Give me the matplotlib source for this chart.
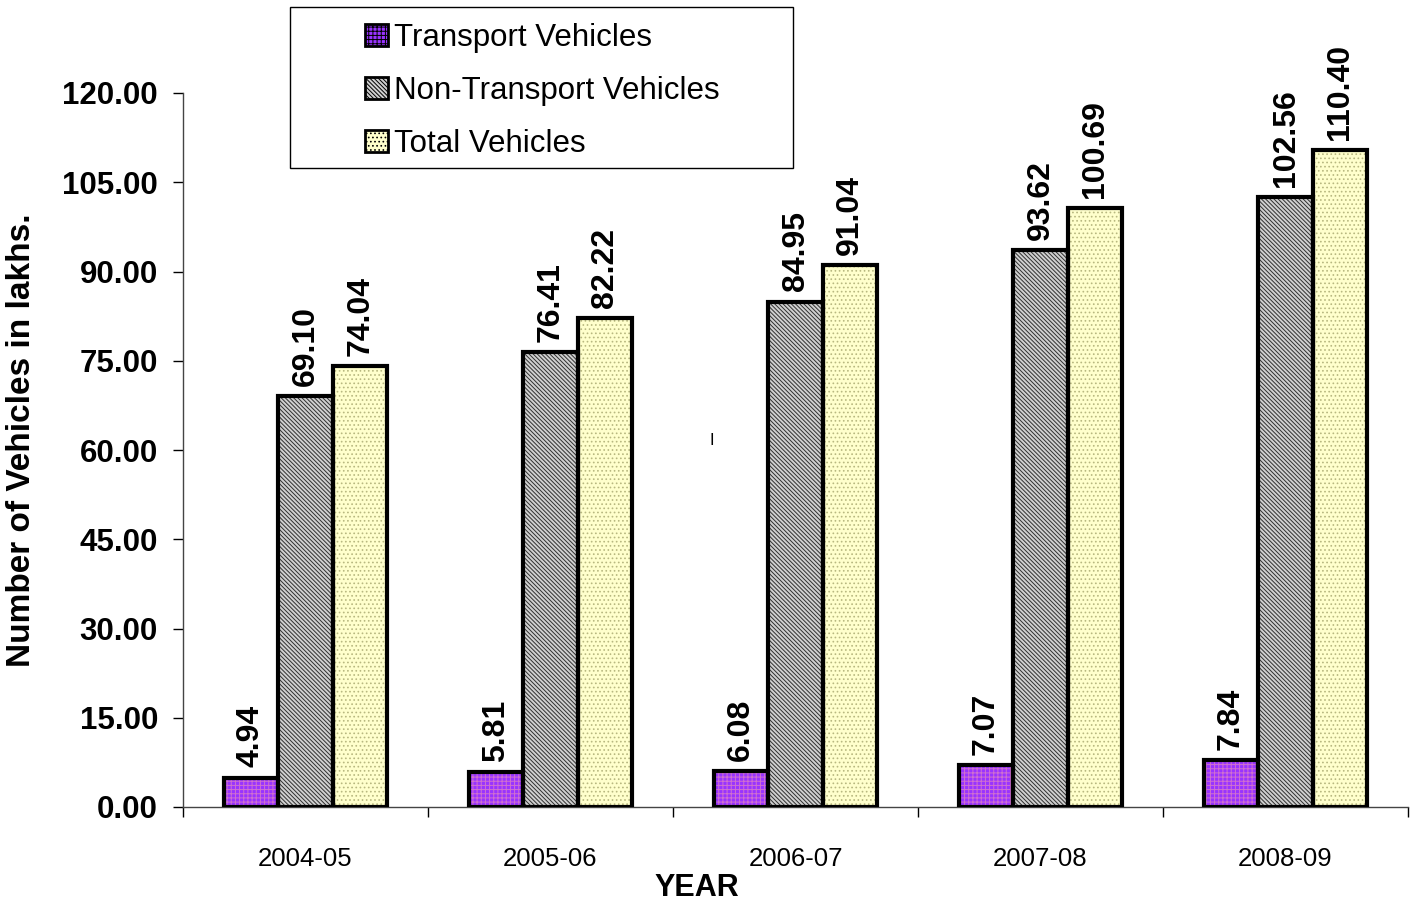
import matplotlib
matplotlib.use("Agg")
import matplotlib.pyplot as plt
import numpy as np
from matplotlib import font_manager
from matplotlib.patches import Patch, Rectangle

years = ["2004-05", "2005-06", "2006-07", "2007-08", "2008-09"]
transport = [4.94, 5.81, 6.08, 7.07, 7.84]
non_transport = [69.10, 76.41, 84.95, 93.62, 102.56]
total = [74.04, 82.22, 91.04, 100.69, 110.40]
series_names = ["Transport Vehicles", "Non-Transport Vehicles", "Total Vehicles"]
yticks = [0, 15, 30, 45, 60, 75, 90, 105, 120]

plt.rcParams['font.family'] = ['Liberation Sans', 'DejaVu Sans']
plt.rcParams['hatch.linewidth'] = 0.7

names = {f.name for f in font_manager.fontManager.ttflist}
narrow = 'Liberation Sans Narrow' if 'Liberation Sans Narrow' in names else None

fig = plt.figure(figsize=(14.11, 9.06), dpi=100)
ax = fig.add_axes([183/1411, 1-807/906, 1225/1411, (807-93)/906])

x = np.arange(len(years))
w = 0.223
styles = [
    dict(facecolor="#9933FF", hatch="++++", hatch_color="#D070D0"),
    dict(facecolor="#D0D0D0", hatch="\\\\\\\\\\\\\\\\", hatch_color="#303030"),
    dict(facecolor="#FFFFCC", hatch="....", hatch_color="#B8B880"),
]
data = [transport, non_transport, total]
for i, (vals, st) in enumerate(zip(data, styles)):
    pos = x + (i - 1) * w
    ax.bar(pos, vals, width=w, facecolor=st["facecolor"], edgecolor=st["hatch_color"],
           hatch=st["hatch"], linewidth=0, zorder=2)
    ax.bar(pos, vals, width=w, facecolor="none", edgecolor="black", linewidth=3, zorder=3)
    for p, v in zip(pos, vals):
        ax.text(p, v + 1.7, f"{v:.2f}", rotation=90, ha="center", va="bottom",
                fontsize=23, fontweight="bold", zorder=4)

ax.set_xlim(-0.5, len(years) - 0.5)
ax.set_ylim(0, 120)
ax.set_yticks(yticks)
ax.set_yticklabels([f"{t:.2f}" for t in yticks], fontsize=22.5, fontweight="bold")
ax.set_xticks(x)
if narrow:
    ax.set_xticklabels(years, fontsize=21, family=narrow)
else:
    ax.set_xticklabels(years, fontsize=18.5)
ax.set_xticks(np.arange(len(years) + 1) - 0.5, minor=True)
ax.tick_params(axis="x", which="major", length=0, pad=29)
ax.tick_params(axis="x", which="minor", length=7, width=1, direction="out")
ax.tick_params(axis="y", length=7, width=1, direction="out", pad=11)
for s in ["top", "right"]:
    ax.spines[s].set_visible(False)
for s in ["left", "bottom"]:
    ax.spines[s].set_linewidth(1)
    ax.spines[s].set_color("#444444")

fig.text(22/1411, 1-440/906, "Number of Vehicles in lakhs.", rotation=90, fontsize=24,
         fontweight="bold", ha="center", va="center")
fig.text(697/1411, 1-888/906, "YEAR", fontsize=22, fontweight="bold", ha="center", va="center")
fig.text(712/1411, 1-440/906, "I", fontsize=12, ha="center", va="center")

proxies = [Patch(facecolor=st["facecolor"], edgecolor="black", hatch=st["hatch"], linewidth=2)
           for st in styles]
leg = fig.legend(proxies, series_names, loc="upper left",
                 bbox_to_anchor=(365/1411, 1 - 23/906), bbox_transform=fig.transFigure,
                 fontsize=22.5, frameon=False,
                 handlelength=0.72, handleheight=0.72, handletextpad=0.22,
                 labelspacing=0.74, borderpad=0, borderaxespad=0)
fig.patches.append(Rectangle((290/1411, 1-168/906), 503/1411, 161/906, transform=fig.transFigure,
                             fill=False, edgecolor="black", linewidth=1))

fig.savefig("out.png", dpi=100)
